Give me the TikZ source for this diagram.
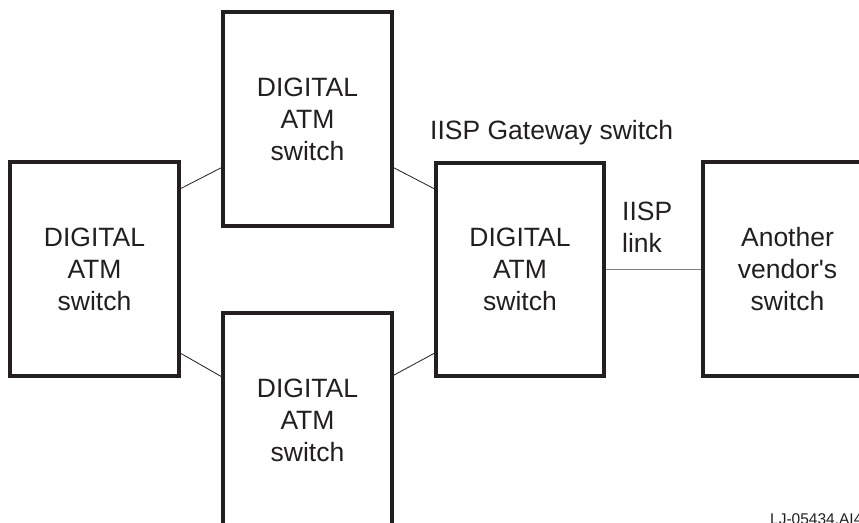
\documentclass[tikz,border=0pt]{standalone}
\usepackage{fontspec}
\setmainfont{Liberation Sans}
\usetikzlibrary{calc}
\definecolor{inkgray}{HTML}{231F20}

\begin{document}
\begin{tikzpicture}[
    x=1pt, y=-1pt,
    switchbox/.style={draw=inkgray, line width=3.5pt, minimum width=169pt, minimum height=214pt, align=center, text=inkgray, font=\fontsize{26.5}{32}\selectfont, inner sep=0pt},
    trunk/.style={draw=inkgray, line width=0.8pt},
    iisplink/.style={draw=gray, line width=1.4pt},
    tag/.style={text=inkgray, font=\fontsize{26.5}{32}\selectfont, inner sep=0pt}
]
    \useasboundingbox (0,0) rectangle (859,522);

    % Switches
    \node[switchbox] (left) at (94.5,269) {DIGITAL\\ATM\\switch};
    \node[switchbox] (top) at (307.5,119) {DIGITAL\\ATM\\switch};
    \node[switchbox] (bottom) at (307.5,420) {DIGITAL\\ATM\\switch};
    \node[switchbox, minimum width=168pt, minimum height=213pt] (gate) at (520,269.5) {DIGITAL\\ATM\\switch};
    \node[switchbox] (vendor) at (787.5,269) {Another\\vendor\textquotesingle s\\switch};

    % Labels
    \node[tag, anchor=base west] (gatelabel) at (430,139) {IISP Gateway switch};
    \node[tag, anchor=base west, align=left] (linklabel) at (622,252) {IISP\\link};
    \node[text=inkgray, font=\fontsize{15.5}{18}\selectfont, inner sep=0pt, anchor=base west] (figid) at (770,524) {LJ-05434.AI4};

    % Connections
    \draw[trunk] ($(left.north east)!0.13!(left.south east)$) -- ($(top.north west)!0.724!(top.south west)$);
    \draw[trunk] ($(left.north east)!0.888!(left.south east)$) -- ($(bottom.north west)!0.30!(bottom.south west)$);
    \draw[trunk] ($(top.north east)!0.724!(top.south east)$) -- ($(gate.north west)!0.127!(gate.south west)$);
    \draw[trunk] ($(bottom.north east)!0.294!(bottom.south east)$) -- ($(gate.north west)!0.887!(gate.south west)$);
    \draw[iisplink] (gate.east) -- (gate.east -| vendor.west);
\end{tikzpicture}
\end{document}
